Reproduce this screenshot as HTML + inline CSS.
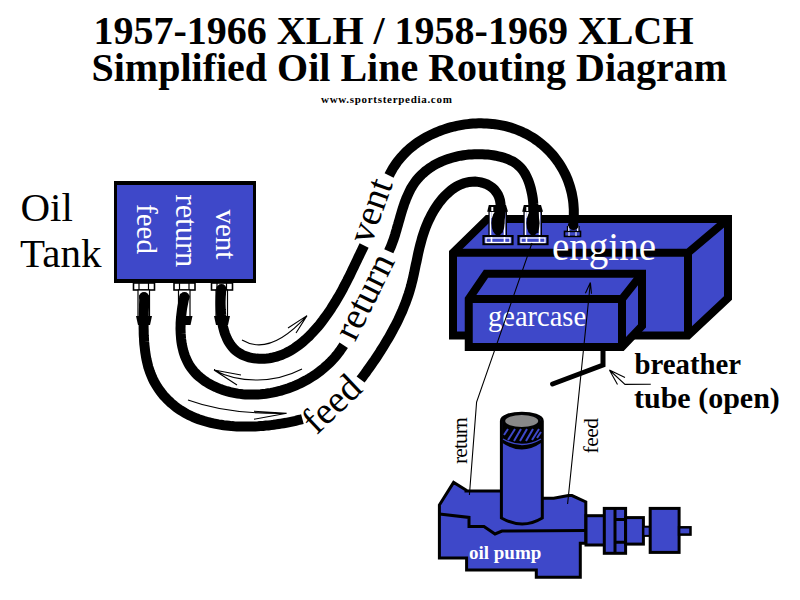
<!DOCTYPE html>
<html><head><meta charset="utf-8">
<style>
html,body{margin:0;padding:0;background:#fff;width:800px;height:600px;overflow:hidden}
svg{position:absolute;left:0;top:0}
</style></head><body>
<svg width="800" height="600" viewBox="0 0 800 600">
<g font-family="Liberation Serif" font-weight="bold" fill="#000">
<text x="93.5" y="44" font-size="40">1957-1966 XLH / 1958-1969 XLCH</text>
<text x="91.5" y="81" font-size="40">Simplified Oil Line Routing Diagram</text>
<text x="321" y="103" font-size="11" letter-spacing="0.7">www.sportsterpedia.com</text>
</g>
<g font-family="Liberation Serif" fill="#000" font-size="41">
<text x="20.5" y="221">Oil</text>
<text x="20" y="267">Tank</text>
</g>
<rect x="114" y="181" width="142" height="102" fill="#000"/>
<rect x="117" y="185" width="136" height="94" fill="#3E48C9"/>
<g font-family="Liberation Serif" fill="#fff" font-size="29">
<text transform="translate(137,204) rotate(90)">feed</text>
<text transform="translate(176,194.5) rotate(90)" font-size="30.5">return</text>
<text transform="translate(216,209.5) rotate(90)">vent</text>
</g>
<rect x="133.5" y="283" width="21" height="7" fill="#fff" stroke="#000" stroke-width="1.6"/>
<line x1="139" y1="283" x2="139" y2="290" stroke="#000" stroke-width="1.2"/>
<line x1="148.5" y1="283" x2="148.5" y2="290" stroke="#000" stroke-width="1.2"/>
<rect x="138" y="290" width="11.5" height="27" fill="#fff" stroke="#000" stroke-width="1.2"/>
<path d="M136,316 L152,316 L150,325 L138,325Z" fill="#000"/>
<rect x="174.0" y="283" width="21" height="7" fill="#fff" stroke="#000" stroke-width="1.6"/>
<line x1="179.5" y1="283" x2="179.5" y2="290" stroke="#000" stroke-width="1.2"/>
<line x1="189.0" y1="283" x2="189.0" y2="290" stroke="#000" stroke-width="1.2"/>
<rect x="178.5" y="290" width="11.5" height="27" fill="#fff" stroke="#000" stroke-width="1.2"/>
<path d="M176.5,316 L192.5,316 L190.5,325 L178.5,325Z" fill="#000"/>
<rect x="211.5" y="283" width="21" height="7" fill="#fff" stroke="#000" stroke-width="1.6"/>
<line x1="217" y1="283" x2="217" y2="290" stroke="#000" stroke-width="1.2"/>
<line x1="226.5" y1="283" x2="226.5" y2="290" stroke="#000" stroke-width="1.2"/>
<rect x="216" y="290" width="11.5" height="27" fill="#fff" stroke="#000" stroke-width="1.2"/>
<path d="M214,316 L230,316 L228,325 L216,325Z" fill="#000"/>

<!-- engine -->
<g stroke="#000" stroke-width="8" stroke-linejoin="miter" fill="#3E48C9">
<path d="M487.5,219 L728,219 L728,298 L688,335.5 L453,335.5 L453,252.7 Z"/>
<path d="M453,252.7 L688,252.7 L728,219 M688,252.7 L688,335.5" fill="none"/>
</g>
<!-- gearcase -->
<g stroke="#000" stroke-width="8" stroke-linejoin="miter" fill="#3E48C9">
<path d="M486,273.75 L642,273.75 L642,326 L622,347 L468.75,347 L468.75,299 Z"/>
<path d="M468.75,299 L622,299 L642,273.75 M622,299 L622,347" fill="none"/>
</g>
<text x="552" y="259.5" font-family="Liberation Serif" font-size="39" fill="#fff">engine</text>
<text x="488" y="326" font-family="Liberation Serif" font-size="28.5" fill="#fff">gearcase</text>

<path d="M488.8,205 L506.0,205 L508.0,211.75 L487.2,211.75Z" fill="#000"/>
<rect x="491.3" y="207" width="2" height="4.5" fill="#fff"/>
<rect x="489.1" y="211.75" width="17.2" height="24.5" fill="#3E48C9" stroke="#000" stroke-width="1.4"/>
<path d="M490.5,212 L490.5,236 M504.5,212 L504.5,236" stroke="#fff" stroke-width="1.5"/>
<rect x="491.3" y="212" width="12.4" height="6" fill="#fff"/>
<rect x="483.4" y="236" width="29.2" height="8.2" fill="#3E48C9" stroke="#000" stroke-width="2"/>
<rect x="486.0" y="238" width="24" height="4.5" fill="none" stroke="#fff" stroke-width="1.3"/>
<line x1="491.5" y1="237" x2="491.5" y2="243" stroke="#fff" stroke-width="1.6"/>
<line x1="504.5" y1="237" x2="504.5" y2="243" stroke="#fff" stroke-width="1.6"/>
<path d="M523.8,205 L541.0,205 L543.0,211.75 L522.2,211.75Z" fill="#000"/>
<rect x="526.3" y="207" width="2" height="4.5" fill="#fff"/>
<rect x="524.1" y="211.75" width="17.2" height="24.5" fill="#3E48C9" stroke="#000" stroke-width="1.4"/>
<path d="M525.5,212 L525.5,236 M539.5,212 L539.5,236" stroke="#fff" stroke-width="1.5"/>
<rect x="526.3" y="212" width="12.4" height="6" fill="#fff"/>
<rect x="518.4" y="236" width="29.2" height="8.2" fill="#3E48C9" stroke="#000" stroke-width="2"/>
<rect x="521.0" y="238" width="24" height="4.5" fill="none" stroke="#fff" stroke-width="1.3"/>
<line x1="526.5" y1="237" x2="526.5" y2="243" stroke="#fff" stroke-width="1.6"/>
<line x1="539.5" y1="237" x2="539.5" y2="243" stroke="#fff" stroke-width="1.6"/>
<rect x="564.5" y="231.4" width="16" height="5" fill="#3E48C9" stroke="#000" stroke-width="1.6"/>
<line x1="569" y1="232" x2="569" y2="236" stroke="#fff" stroke-width="1"/>
<line x1="576" y1="232" x2="576" y2="236" stroke="#fff" stroke-width="1"/>
<path d="M567.5,226 L567.5,231 M579,226 L579,231" stroke="#000" stroke-width="1.3"/><path d="M568.8,226 L568.8,231 M577.7,226 L577.7,231" stroke="#fff" stroke-width="1.2"/>

<g fill="none" stroke="#000" stroke-width="10" stroke-linecap="butt">
<path d="M221.6,287.0 L221.4,289.2 L221.1,291.5 L221.0,293.9 L220.8,296.4 L220.7,298.9 L220.6,301.5 L220.6,304.2 L220.7,306.9 L220.8,309.6 L221.0,312.4 L221.2,315.2 L221.5,318.0 L221.9,320.7 L222.4,323.5 L222.9,326.2 L223.6,328.9 L224.3,331.5 L225.1,334.0 L226.1,336.5 L227.1,338.9 L228.3,341.2 L229.6,343.3 L231.0,345.4 L232.5,347.3 L234.2,349.1 L235.9,350.7 L237.9,352.2 L239.9,353.5 L242.1,354.7 L244.3,355.7 L246.7,356.5 L249.1,357.3 L251.5,357.8 L254.0,358.3 L256.6,358.6 L259.1,358.8 L261.7,358.8 L264.3,358.7 L266.8,358.5 L269.3,358.2 L271.8,357.8 L274.3,357.2 L276.7,356.6 L279.1,355.8 L281.4,355.0 L283.7,354.0 L286.0,353.0 L288.3,351.8 L290.5,350.6 L292.7,349.3 L294.8,347.9 L296.9,346.4 L299.0,344.9 L301.1,343.3 L303.1,341.6 L305.1,339.9 L307.0,338.1 L309.0,336.3 L310.8,334.4 L312.7,332.4 L314.5,330.4 L316.3,328.4 L318.1,326.4 L319.8,324.3 L321.5,322.1 L323.1,320.0 L324.7,317.8 L326.3,315.6 L327.9,313.4 L329.4,311.2 L330.9,309.0 L332.3,306.7 L333.7,304.5 L335.1,302.3 L336.4,300.1 L337.7,297.9 L339.0,295.7 L340.3,293.5 L341.5,291.3 L342.7,289.1 L343.8,286.9 L345.0,284.7 L346.1,282.5 L347.3,280.3 L348.4,278.1 L349.5,275.9 L350.6,273.7 L351.6,271.5 L352.7,269.2 L353.8,267.0 L354.9,264.7 L356.0,262.4 L357.1,260.1 L358.2,257.7 L359.4,255.3 L360.5,252.9 L361.7,250.5 L362.9,248.0 L364.1,245.5"/>
<path d="M389.1,175.5 L390.3,173.0 L391.6,170.7 L392.9,168.3 L394.4,166.1 L395.9,163.9 L397.4,161.7 L399.1,159.6 L400.8,157.5 L402.6,155.6 L404.4,153.6 L406.3,151.7 L408.3,149.9 L410.3,148.1 L412.4,146.4 L414.5,144.8 L416.7,143.2 L418.9,141.7 L421.2,140.2 L423.5,138.8 L425.9,137.4 L428.3,136.1 L430.7,134.9 L433.2,133.7 L435.7,132.6 L438.2,131.5 L440.8,130.5 L443.4,129.6 L446.0,128.7 L448.6,127.9 L451.3,127.2 L454.0,126.5 L456.7,125.9 L459.4,125.4 L462.1,124.9 L464.8,124.4 L467.6,124.1 L470.3,123.8 L473.0,123.6 L475.8,123.4 L478.6,123.3 L481.3,123.3 L484.0,123.4 L486.8,123.5 L489.5,123.7 L492.2,123.9 L494.9,124.2 L497.6,124.6 L500.3,125.1 L503.0,125.6 L505.6,126.2 L508.2,126.9 L510.8,127.6 L513.3,128.5 L515.9,129.4 L518.4,130.3 L520.8,131.3 L523.2,132.5 L525.6,133.6 L528.0,134.9 L530.3,136.2 L532.6,137.6 L534.8,139.0 L537.0,140.5 L539.1,142.1 L541.2,143.8 L543.2,145.5 L545.2,147.2 L547.1,149.0 L549.0,150.9 L550.8,152.8 L552.6,154.8 L554.3,156.9 L555.9,159.0 L557.5,161.1 L559.0,163.3 L560.4,165.5 L561.8,167.8 L563.1,170.1 L564.4,172.5 L565.6,174.9 L566.7,177.4 L567.7,179.9 L568.6,182.4 L569.5,185.0 L570.3,187.6 L571.0,190.2 L571.7,192.9 L572.2,195.6 L572.7,198.3 L573.1,201.0 L573.4,203.8 L573.6,206.6 L573.8,209.4 L573.8,212.2 L573.8,215.0 L573.7,217.9 L573.5,220.7 L573.2,223.6 L572.8,226.4"/>
<path d="M184.9,294.8 L184.4,297.2 L183.8,299.7 L183.3,302.2 L182.8,304.7 L182.3,307.3 L181.9,309.9 L181.6,312.5 L181.3,315.1 L181.0,317.8 L180.8,320.4 L180.6,323.1 L180.6,325.8 L180.5,328.4 L180.6,331.1 L180.7,333.8 L180.9,336.4 L181.1,339.0 L181.4,341.6 L181.8,344.2 L182.3,346.7 L182.9,349.2 L183.5,351.7 L184.3,354.1 L185.1,356.4 L186.1,358.7 L187.1,361.0 L188.2,363.2 L189.4,365.3 L190.8,367.3 L192.2,369.3 L193.8,371.2 L195.4,373.0 L197.1,374.8 L198.9,376.4 L200.8,378.0 L202.8,379.6 L204.8,381.0 L206.9,382.4 L209.0,383.7 L211.2,384.9 L213.5,386.1 L215.8,387.1 L218.1,388.2 L220.5,389.1 L222.9,389.9 L225.3,390.7 L227.7,391.4 L230.2,392.1 L232.7,392.6 L235.2,393.1 L237.7,393.6 L240.2,393.9 L242.8,394.2 L245.3,394.4 L247.9,394.5 L250.4,394.6 L253.0,394.6 L255.6,394.6 L258.1,394.4 L260.7,394.3 L263.3,394.0 L265.8,393.7 L268.4,393.3 L271.0,392.9 L273.5,392.4 L276.0,391.8 L278.6,391.2 L281.1,390.6 L283.6,389.8 L286.1,389.0 L288.5,388.2 L291.0,387.3 L293.4,386.4 L295.8,385.4 L298.2,384.3 L300.5,383.2 L302.8,382.0 L305.1,380.8 L307.4,379.6 L309.6,378.3 L311.8,376.9 L314.0,375.5 L316.1,374.1 L318.2,372.6 L320.2,371.0 L322.2,369.4 L324.2,367.8 L326.1,366.1 L328.0,364.4 L329.8,362.7 L331.6,360.9 L333.3,359.0 L334.9,357.2 L336.5,355.3 L338.1,353.3 L339.6,351.3 L341.0,349.3 L342.4,347.2 L343.7,345.2"/>
<path d="M388.8,251.2 L389.8,249.0 L390.8,246.8 L391.7,244.5 L392.6,242.1 L393.5,239.7 L394.3,237.2 L395.1,234.7 L395.8,232.2 L396.6,229.6 L397.3,227.0 L398.1,224.4 L398.8,221.8 L399.6,219.2 L400.3,216.5 L401.1,213.9 L401.9,211.2 L402.7,208.6 L403.6,206.0 L404.4,203.4 L405.4,200.9 L406.3,198.4 L407.4,195.9 L408.5,193.5 L409.6,191.1 L410.8,188.8 L412.1,186.6 L413.5,184.4 L414.9,182.3 L416.5,180.2 L418.1,178.3 L419.8,176.4 L421.6,174.6 L423.5,172.9 L425.4,171.2 L427.4,169.7 L429.5,168.2 L431.6,166.8 L433.8,165.4 L436.0,164.2 L438.3,163.0 L440.7,161.9 L443.1,160.8 L445.5,159.9 L448.0,159.0 L450.5,158.2 L453.0,157.5 L455.6,156.8 L458.2,156.2 L460.9,155.7 L463.5,155.3 L466.2,154.9 L468.9,154.6 L471.6,154.4 L474.3,154.2 L477.0,154.2 L479.7,154.2 L482.4,154.2 L485.1,154.4 L487.8,154.6 L490.5,154.9 L493.1,155.3 L495.8,155.7 L498.4,156.3 L500.9,156.9 L503.5,157.6 L505.9,158.4 L508.3,159.3 L510.6,160.4 L512.9,161.5 L515.0,162.8 L517.0,164.3 L518.8,165.9 L520.6,167.6 L522.2,169.5 L523.6,171.5 L525.0,173.6 L526.2,175.9 L527.3,178.2 L528.3,180.6 L529.2,183.0 L530.0,185.6 L530.7,188.1 L531.3,190.7 L531.9,193.4 L532.4,196.0 L532.8,198.7 L533.1,201.4 L533.3,204.2 L533.6,206.9 L533.7,209.6 L533.8,212.3 L533.9,215.0 L533.9,217.7 L533.9,220.3 L533.9,222.9 L533.8,225.5 L533.7,228.0 L533.6,230.4 L533.5,232.8"/>
<path d="M144.3,295.1 L144.2,297.5 L144.2,299.9 L144.1,302.3 L144.0,304.8 L144.0,307.3 L143.9,309.8 L143.8,312.4 L143.8,314.9 L143.7,317.5 L143.7,320.1 L143.6,322.7 L143.6,325.4 L143.6,328.0 L143.7,330.7 L143.7,333.3 L143.8,336.0 L144.0,338.6 L144.1,341.3 L144.3,343.9 L144.6,346.5 L144.9,349.1 L145.2,351.8 L145.6,354.3 L146.0,356.9 L146.5,359.5 L147.1,362.0 L147.7,364.5 L148.3,367.0 L149.1,369.4 L149.9,371.8 L150.8,374.2 L151.8,376.5 L152.8,378.8 L153.9,381.1 L155.1,383.3 L156.4,385.5 L157.7,387.6 L159.1,389.6 L160.6,391.7 L162.1,393.6 L163.7,395.6 L165.4,397.4 L167.1,399.2 L168.9,401.0 L170.7,402.7 L172.6,404.3 L174.5,405.9 L176.5,407.4 L178.5,408.9 L180.6,410.3 L182.7,411.6 L184.9,412.9 L187.1,414.1 L189.3,415.2 L191.6,416.3 L193.9,417.3 L196.2,418.3 L198.6,419.2 L201.0,420.0 L203.4,420.8 L205.9,421.5 L208.4,422.2 L210.9,422.8 L213.4,423.4 L215.9,423.9 L218.5,424.4 L221.1,424.8 L223.7,425.2 L226.3,425.5 L228.9,425.8 L231.5,426.1 L234.2,426.3 L236.8,426.4 L239.4,426.5 L242.1,426.6 L244.7,426.6 L247.4,426.6 L250.1,426.6 L252.7,426.5 L255.3,426.4 L258.0,426.3 L260.6,426.1 L263.2,425.9 L265.8,425.6 L268.4,425.4 L271.0,425.1 L273.6,424.8 L276.1,424.4 L278.6,424.0 L281.1,423.6 L283.6,423.2 L286.1,422.8 L288.5,422.3 L290.9,421.8 L293.3,421.3 L295.6,420.8 L297.9,420.2 L300.2,419.7 L302.4,419.1"/>
<path d="M360.6,379.6 L362.4,377.2 L364.1,374.9 L365.9,372.5 L367.6,370.0 L369.4,367.6 L371.1,365.1 L372.8,362.6 L374.6,360.1 L376.3,357.6 L378.0,355.0 L379.7,352.4 L381.3,349.8 L383.0,347.2 L384.6,344.5 L386.2,341.8 L387.8,339.2 L389.4,336.4 L390.9,333.7 L392.4,331.0 L393.9,328.2 L395.4,325.5 L396.8,322.7 L398.2,319.9 L399.5,317.0 L400.8,314.2 L402.1,311.4 L403.3,308.5 L404.4,305.6 L405.6,302.8 L406.6,299.9 L407.6,297.0 L408.6,294.1 L409.5,291.2 L410.4,288.2 L411.2,285.3 L411.9,282.4 L412.7,279.4 L413.3,276.5 L414.0,273.5 L414.6,270.6 L415.2,267.6 L415.8,264.6 L416.5,261.7 L417.1,258.7 L417.7,255.7 L418.3,252.8 L419.0,249.8 L419.7,246.9 L420.5,243.9 L421.3,241.0 L422.1,238.0 L423.0,235.1 L424.0,232.2 L425.0,229.2 L426.1,226.3 L427.3,223.4 L428.6,220.5 L430.0,217.7 L431.4,214.8 L433.0,212.0 L434.7,209.2 L436.4,206.5 L438.3,203.8 L440.2,201.3 L442.2,198.8 L444.3,196.5 L446.5,194.3 L448.8,192.2 L451.1,190.2 L453.5,188.5 L456.0,186.9 L458.5,185.5 L461.1,184.3 L463.8,183.3 L466.5,182.5 L469.3,181.9 L472.2,181.7 L475.1,181.6 L478.0,181.9 L481.0,182.4 L484.0,183.3 L487.0,184.4 L489.7,185.9 L492.2,187.6 L494.4,189.7 L496.3,192.1 L497.9,194.6 L499.1,197.4 L500.0,200.4 L500.5,203.5 L500.7,206.8 L500.7,210.0 L500.5,213.4 L500.1,216.7 L499.6,220.0 L499.1,223.2 L498.6,226.3 L498.1,229.2 L497.7,232.0"/>

</g>
<g fill="#000">
<circle cx="144" cy="297" r="5"/><circle cx="184.5" cy="297" r="5"/><circle cx="221.5" cy="289" r="5"/>
<ellipse cx="498" cy="223" rx="6.6" ry="12.5"/><ellipse cx="533" cy="223" rx="6.6" ry="12.5"/><ellipse cx="573.5" cy="226" rx="5" ry="4"/>
</g>

<!-- hose labels -->
<g font-family="Liberation Serif" font-size="38" fill="#000">
<text transform="translate(316.5,435.5) rotate(-43.5)">feed</text>
<text transform="translate(355,342.5) rotate(-63.5)">return</text>
<text transform="translate(371,245.5) rotate(-70.4)">vent</text>
</g>

<!-- thin arrows -->
<g fill="none" stroke="#000" stroke-width="1.1">
<path d="M242,340 C262,352 285,340 307,315.6 M307,315.6 L288,328 M307,315.6 L296,333"/>
<path d="M302,369 C275,383 240,384 214,370 M214,370 L241,375 M214,370 L237,385"/>
<path d="M188,400 C215,410 250,414 286.7,413.3 M286.7,413.3 L254,411.3 M286.7,413.3 L254,419.3"/>
<path d="M650.8,384.2 L625,384.4 L609.4,370 M609.4,370 L625,377.5 M609.4,370 L617.5,384.4"/>
</g>

<!-- breather -->
<path d="M603,349 L603,365 L552.6,384" fill="none" stroke="#000" stroke-width="5" stroke-linecap="round" stroke-linejoin="miter"/>
<g font-family="Liberation Serif" font-weight="bold" fill="#000">
<text x="634.5" y="374" font-size="28.8">breather</text>
<text x="634" y="408" font-size="30">tube (open)</text>
</g>

<!-- pump labels -->
<g font-family="Liberation Serif" font-size="21.5" fill="#000">
<text transform="translate(466.5,464) rotate(-90)" letter-spacing="-0.9">return</text>
<text transform="translate(598,453.5) rotate(-90)" letter-spacing="-0.5">feed</text>
</g>

<!-- oil pump -->
<g stroke="#000" stroke-width="3" fill="#3E48C9" stroke-linejoin="miter">
<path d="M439.4,505 L453.6,482.4 L466,490 L466,491 L501.4,491 L542.3,498.3 L553.7,498.3 L568.4,495.6 L572,495.6 L585.8,502 L585.8,543.3 L580.3,543.3 L580.3,577.2 L536.3,577.2 L536.3,570 L466.6,570 L466.6,558 L439.4,558 Z"/>
<path d="M439.4,514 L469,517.4 L469,526.4 L484,526.4 L495,534 L502,531 L585.8,530.5" fill="none"/>
<!-- shaft parts -->
<rect x="586" y="515.7" width="20.7" height="29.3"/>
<rect x="604.3" y="508.4" width="21.3" height="44.9"/>
<path d="M615,508.4 L615,553.3 M615,519.4 L625.6,519.4 M615,542.3 L625.6,542.3" fill="none"/>
<rect x="625.6" y="517.6" width="17.8" height="26.5"/>
<rect x="643.4" y="526.7" width="7" height="9.2" stroke-width="2"/>
<rect x="650.2" y="508.4" width="28.9" height="44"/>
<rect x="679.1" y="527.3" width="11.4" height="7.3" stroke-width="2.5"/>
<!-- cylinder -->
<path d="M501.4,518 L501.4,421 C501.4,410.5 542.3,410.5 542.3,421 L542.3,518 Q522.5,530 501.4,518 Z"/>
</g>
<path d="M502.5,443 L502.5,421 C502.5,412 541,412 541,421 L541,443 Q522,456 502.5,443 Z" fill="#000"/>
<ellipse cx="521.7" cy="421" rx="16.5" ry="6" fill="#888"/>
<g stroke="#3E48C9" stroke-width="2">
<path d="M504,435 L508,429 M508,440 L515,429 M514,441 L521,429 M520,441 L527,429 M526,441 L533,429 M532,440 L539,429 M537,438 L541,432"/>
</g>
<path d="M503,439 Q522,450 541,439" fill="none" stroke="#3E48C9" stroke-width="1.3"/>
<text x="469" y="558.5" font-family="Liberation Serif" font-weight="bold" font-size="19" fill="#fff">oil pump</text>
<g fill="none" stroke="#000" stroke-width="1.1">
<path d="M532,243 L476.6,402 L469.4,495"/>
<path d="M567.6,504 L590.4,282.5 M590.4,282.5 L585.4,293.3 M590.4,282.5 L591.5,293.75"/>
</g>
</svg>
</body></html>
